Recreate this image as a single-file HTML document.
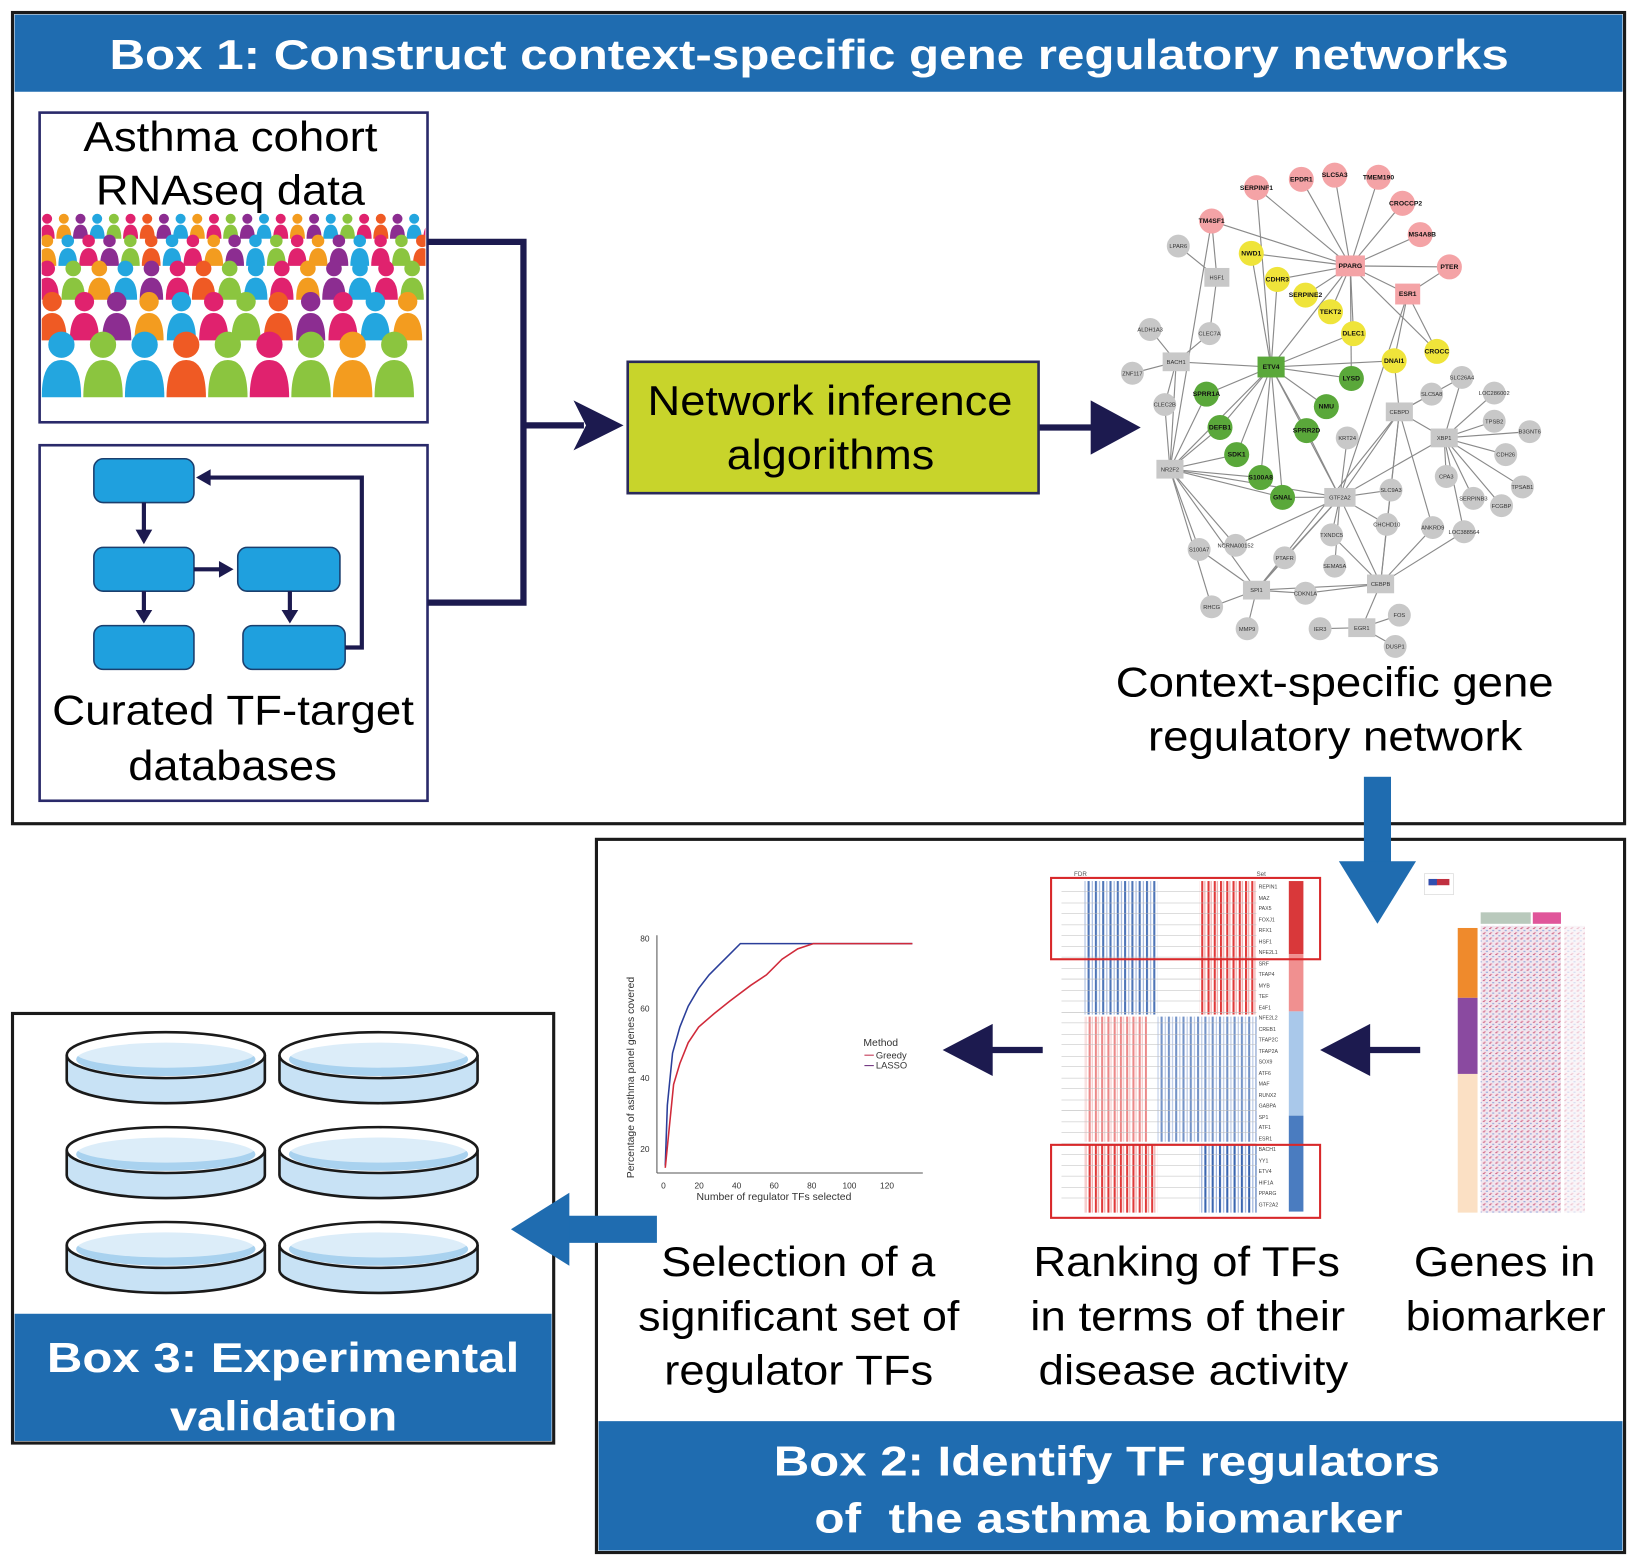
<!DOCTYPE html>
<html><head><meta charset="utf-8"><style>html,body{margin:0;padding:0;background:#fff}svg{display:block}</style></head><body>
<svg width="1635" height="1564" viewBox="0 0 1568 1500" preserveAspectRatio="none" xmlns="http://www.w3.org/2000/svg" font-family="Liberation Sans, sans-serif">
<defs>
<pattern id="bs" width="7" height="10" patternUnits="userSpaceOnUse"><rect x="0" y="0" width="2" height="10" fill="#3a66b0"/><rect x="4" y="0" width="1" height="10" fill="#8fa8d8"/></pattern>
<pattern id="rs" width="6" height="10" patternUnits="userSpaceOnUse"><rect x="0" y="0" width="2" height="10" fill="#e03a3a"/><rect x="3" y="0" width="1" height="10" fill="#f0a0a0"/></pattern>
<pattern id="hm" width="6" height="5" patternUnits="userSpaceOnUse"><rect width="6" height="5" fill="#f2e6ee"/><rect x="0" y="0" width="2" height="1" fill="#d06a8a"/><rect x="3" y="2" width="2" height="1" fill="#8aa0d8"/><rect x="1" y="4" width="2" height="1" fill="#e090a8"/></pattern>
<g id="person"><circle cx="9" cy="6" r="6"/><path d="M0 30 Q0 13 9 13 Q18 13 18 30 Z"/></g>
<g id="dish"><path d="M0 0 L0 24 A95 22 0 0 0 190 24 L190 0" fill="#c8e2f5" stroke="#1a1a1a" stroke-width="2.5"/><ellipse cx="95" cy="0" rx="95" ry="22" fill="#fff" stroke="#1a1a1a" stroke-width="2.5"/><ellipse cx="95" cy="4" rx="86" ry="16" fill="#a9d2ef"/><ellipse cx="95" cy="-2" rx="86" ry="14" fill="#fff" opacity="0.6"/></g>
<clipPath id="crowd"><rect x="40" y="200" width="368" height="195"/></clipPath>
</defs>

<!-- Box 1 -->
<rect x="12" y="12" width="1546" height="778" fill="#fff" stroke="#1a1a1a" stroke-width="3"/>
<rect x="14" y="14" width="1542" height="74" fill="#1f6cb0"/>
<text x="105" y="66" font-size="40" font-weight="bold" fill="#fff" textLength="1342" lengthAdjust="spacingAndGlyphs">Box 1: Construct context-specific gene regulatory networks</text>

<rect x="38" y="108" width="372" height="297" fill="#fff" stroke="#2a2a6a" stroke-width="2.5"/>
<text x="80" y="145" font-size="40" textLength="282" lengthAdjust="spacingAndGlyphs">Asthma cohort</text>
<text x="92" y="196" font-size="40" textLength="258" lengthAdjust="spacingAndGlyphs">RNAseq data</text>
<g clip-path="url(#crowd)">
<g transform="translate(38,205) scale(0.8)" >
<use href="#person" x="0" y="0" fill="#e0226e"/><use href="#person" x="20" y="0" fill="#f39c1f"/><use href="#person" x="40" y="0" fill="#8c2d91"/><use href="#person" x="60" y="0" fill="#23a6df"/><use href="#person" x="80" y="0" fill="#8bc53f"/><use href="#person" x="100" y="0" fill="#e0226e"/><use href="#person" x="120" y="0" fill="#ef5a24"/><use href="#person" x="140" y="0" fill="#8c2d91"/><use href="#person" x="160" y="0" fill="#23a6df"/><use href="#person" x="180" y="0" fill="#f39c1f"/><use href="#person" x="200" y="0" fill="#e0226e"/><use href="#person" x="220" y="0" fill="#8bc53f"/><use href="#person" x="240" y="0" fill="#8c2d91"/><use href="#person" x="260" y="0" fill="#23a6df"/><use href="#person" x="280" y="0" fill="#e0226e"/><use href="#person" x="300" y="0" fill="#f39c1f"/><use href="#person" x="320" y="0" fill="#8c2d91"/><use href="#person" x="340" y="0" fill="#23a6df"/><use href="#person" x="360" y="0" fill="#8bc53f"/><use href="#person" x="380" y="0" fill="#e0226e"/><use href="#person" x="400" y="0" fill="#ef5a24"/><use href="#person" x="420" y="0" fill="#8c2d91"/><use href="#person" x="440" y="0" fill="#23a6df"/><use href="#person" x="460" y="0" fill="#e0226e"/>
</g>
<g transform="translate(36,225) scale(1)">
<use href="#person" x="0" y="0" fill="#f39c1f"/><use href="#person" x="20" y="0" fill="#23a6df"/><use href="#person" x="40" y="0" fill="#e0226e"/><use href="#person" x="60" y="0" fill="#8c2d91"/><use href="#person" x="80" y="0" fill="#8bc53f"/><use href="#person" x="100" y="0" fill="#ef5a24"/><use href="#person" x="120" y="0" fill="#23a6df"/><use href="#person" x="140" y="0" fill="#e0226e"/><use href="#person" x="160" y="0" fill="#f39c1f"/><use href="#person" x="180" y="0" fill="#8c2d91"/><use href="#person" x="200" y="0" fill="#23a6df"/><use href="#person" x="220" y="0" fill="#8bc53f"/><use href="#person" x="240" y="0" fill="#e0226e"/><use href="#person" x="260" y="0" fill="#f39c1f"/><use href="#person" x="280" y="0" fill="#8c2d91"/><use href="#person" x="300" y="0" fill="#23a6df"/><use href="#person" x="320" y="0" fill="#e0226e"/><use href="#person" x="340" y="0" fill="#8bc53f"/><use href="#person" x="360" y="0" fill="#ef5a24"/>
</g>
<g transform="translate(34,250) scale(1.25)">
<use href="#person" x="0" y="0" fill="#e0226e"/><use href="#person" x="20" y="0" fill="#8bc53f"/><use href="#person" x="40" y="0" fill="#f39c1f"/><use href="#person" x="60" y="0" fill="#23a6df"/><use href="#person" x="80" y="0" fill="#8c2d91"/><use href="#person" x="100" y="0" fill="#e0226e"/><use href="#person" x="120" y="0" fill="#ef5a24"/><use href="#person" x="140" y="0" fill="#8bc53f"/><use href="#person" x="160" y="0" fill="#23a6df"/><use href="#person" x="180" y="0" fill="#e0226e"/><use href="#person" x="200" y="0" fill="#f39c1f"/><use href="#person" x="220" y="0" fill="#8c2d91"/><use href="#person" x="240" y="0" fill="#23a6df"/><use href="#person" x="260" y="0" fill="#e0226e"/><use href="#person" x="280" y="0" fill="#8bc53f"/>
</g>
<g transform="translate(36,280) scale(1.55)">
<use href="#person" x="0" y="0" fill="#ef5a24"/><use href="#person" x="20" y="0" fill="#e0226e"/><use href="#person" x="40" y="0" fill="#8c2d91"/><use href="#person" x="60" y="0" fill="#f39c1f"/><use href="#person" x="80" y="0" fill="#23a6df"/><use href="#person" x="100" y="0" fill="#e0226e"/><use href="#person" x="120" y="0" fill="#8bc53f"/><use href="#person" x="140" y="0" fill="#ef5a24"/><use href="#person" x="160" y="0" fill="#8c2d91"/><use href="#person" x="180" y="0" fill="#e0226e"/><use href="#person" x="200" y="0" fill="#23a6df"/><use href="#person" x="220" y="0" fill="#f39c1f"/>
</g>
<g transform="translate(40,318) scale(2.1)">
<use href="#person" x="0" y="0" fill="#23a6df"/><use href="#person" x="19" y="0" fill="#8bc53f"/><use href="#person" x="38" y="0" fill="#23a6df"/><use href="#person" x="57" y="0" fill="#ef5a24"/><use href="#person" x="76" y="0" fill="#8bc53f"/><use href="#person" x="95" y="0" fill="#e0226e"/><use href="#person" x="114" y="0" fill="#8bc53f"/><use href="#person" x="133" y="0" fill="#f39c1f"/><use href="#person" x="152" y="0" fill="#8bc53f"/>
</g>
</g>

<rect x="38" y="427" width="372" height="341" fill="#fff" stroke="#2a2a6a" stroke-width="2.5"/>
<g fill="#1fa0de" stroke="#1a3f6e" stroke-width="1.5">
<rect x="90" y="440" width="96" height="42" rx="9"/><rect x="90" y="525" width="96" height="42" rx="9"/><rect x="228" y="525" width="98" height="42" rx="9"/><rect x="90" y="600" width="96" height="42" rx="9"/><rect x="233" y="600" width="98" height="42" rx="9"/>
</g>
<g stroke="#1c1a4f" stroke-width="4" fill="none">
<line x1="138" y1="482" x2="138" y2="510"/><line x1="186" y1="546" x2="212" y2="546"/><line x1="138" y1="567" x2="138" y2="587"/><line x1="278" y1="567" x2="278" y2="587"/>
<polyline points="331,621 347,621 347,458 200,458"/>
</g>
<g fill="#1c1a4f"><polygon points="130,508 146,508 138,522"/><polygon points="210,538 210,554 224,546"/><polygon points="130,585 146,585 138,598"/><polygon points="270,585 286,585 278,598"/><polygon points="202,450 202,466 188,458"/></g>
<text x="50" y="695" font-size="40" textLength="347" lengthAdjust="spacingAndGlyphs">Curated TF-target</text>
<text x="123" y="748" font-size="40" textLength="200" lengthAdjust="spacingAndGlyphs">databases</text>

<!-- connectors -->
<g stroke="#1c1a4f" stroke-width="6" fill="none"><polyline points="410,232 502,232 502,578 410,578"/><line x1="502" y1="408" x2="560" y2="408"/><line x1="996" y1="410" x2="1050" y2="410"/></g>
<polygon points="550,384 598,408 550,432 562,408" fill="#1c1a4f"/>
<polygon points="1046,384 1094,410 1046,436" fill="#1c1a4f"/>
<rect x="602" y="347" width="394" height="126" fill="#c8d42b" stroke="#2a2a5a" stroke-width="2.5"/>
<text x="621" y="398" font-size="40" textLength="350" lengthAdjust="spacingAndGlyphs">Network inference</text>
<text x="697" y="450" font-size="40" textLength="199" lengthAdjust="spacingAndGlyphs">algorithms</text>

<!-- network -->
<g stroke="#8a8a8a" stroke-width="1.1">
<line x1="1295" y1="255" x2="1205" y2="180"/><line x1="1295" y1="255" x2="1248" y2="172"/><line x1="1295" y1="255" x2="1280" y2="168"/><line x1="1295" y1="255" x2="1322" y2="170"/><line x1="1295" y1="255" x2="1345" y2="195"/><line x1="1295" y1="255" x2="1362" y2="225"/><line x1="1295" y1="255" x2="1390" y2="256"/><line x1="1295" y1="255" x2="1350" y2="282"/><line x1="1295" y1="255" x2="1162" y2="212"/><line x1="1295" y1="255" x2="1200" y2="243"/><line x1="1295" y1="255" x2="1225" y2="268"/><line x1="1295" y1="255" x2="1252" y2="283"/><line x1="1295" y1="255" x2="1276" y2="299"/><line x1="1295" y1="255" x2="1298" y2="320"/><line x1="1295" y1="255" x2="1219" y2="352"/><line x1="1295" y1="255" x2="1378" y2="337"/><line x1="1295" y1="255" x2="1296" y2="363"/>
<line x1="1350" y1="282" x2="1337" y2="346"/><line x1="1350" y1="282" x2="1378" y2="337"/><line x1="1350" y1="282" x2="1390" y2="256"/><line x1="1350" y1="282" x2="1285" y2="477"/><line x1="1205" y1="180" x2="1219" y2="352"/>
<line x1="1219" y1="352" x2="1157" y2="378"/><line x1="1219" y1="352" x2="1170" y2="410"/><line x1="1219" y1="352" x2="1186" y2="436"/><line x1="1219" y1="352" x2="1209" y2="458"/><line x1="1219" y1="352" x2="1230" y2="477"/><line x1="1219" y1="352" x2="1253" y2="413"/><line x1="1219" y1="352" x2="1272" y2="390"/><line x1="1219" y1="352" x2="1296" y2="363"/><line x1="1219" y1="352" x2="1200" y2="243"/><line x1="1219" y1="352" x2="1225" y2="268"/><line x1="1219" y1="352" x2="1337" y2="346"/><line x1="1219" y1="352" x2="1128" y2="347"/><line x1="1219" y1="352" x2="1122" y2="450"/><line x1="1219" y1="352" x2="1285" y2="477"/><line x1="1219" y1="352" x2="1298" y2="320"/>
<line x1="1162" y1="212" x2="1167" y2="266"/><line x1="1162" y1="212" x2="1122" y2="450"/><line x1="1167" y1="266" x2="1130" y2="236"/><line x1="1167" y1="266" x2="1160" y2="320"/>
<line x1="1128" y1="347" x2="1103" y2="316"/><line x1="1128" y1="347" x2="1086" y2="358"/><line x1="1128" y1="347" x2="1117" y2="388"/><line x1="1128" y1="347" x2="1160" y2="320"/><line x1="1128" y1="347" x2="1122" y2="450"/>
<line x1="1122" y1="450" x2="1157" y2="378"/><line x1="1122" y1="450" x2="1170" y2="410"/><line x1="1122" y1="450" x2="1186" y2="436"/><line x1="1122" y1="450" x2="1209" y2="458"/><line x1="1122" y1="450" x2="1230" y2="477"/><line x1="1122" y1="450" x2="1117" y2="388"/><line x1="1122" y1="450" x2="1150" y2="527"/><line x1="1122" y1="450" x2="1185" y2="523"/><line x1="1122" y1="450" x2="1205" y2="566"/><line x1="1122" y1="450" x2="1285" y2="477"/><line x1="1122" y1="450" x2="1162" y2="582"/>
<line x1="1285" y1="477" x2="1342" y2="395"/><line x1="1285" y1="477" x2="1385" y2="420"/><line x1="1285" y1="477" x2="1334" y2="470"/><line x1="1285" y1="477" x2="1330" y2="503"/><line x1="1285" y1="477" x2="1277" y2="513"/><line x1="1285" y1="477" x2="1280" y2="543"/><line x1="1285" y1="477" x2="1232" y2="535"/><line x1="1285" y1="477" x2="1324" y2="560"/><line x1="1285" y1="477" x2="1292" y2="420"/><line x1="1285" y1="477" x2="1230" y2="477"/><line x1="1285" y1="477" x2="1185" y2="523"/><line x1="1285" y1="477" x2="1253" y2="413"/><line x1="1285" y1="477" x2="1205" y2="566"/>
<line x1="1342" y1="395" x2="1402" y2="362"/><line x1="1342" y1="395" x2="1373" y2="378"/><line x1="1342" y1="395" x2="1385" y2="420"/><line x1="1342" y1="395" x2="1374" y2="506"/><line x1="1342" y1="395" x2="1330" y2="503"/><line x1="1342" y1="395" x2="1324" y2="560"/><line x1="1342" y1="395" x2="1205" y2="566"/><line x1="1342" y1="395" x2="1337" y2="346"/>
<line x1="1385" y1="420" x2="1433" y2="404"/><line x1="1385" y1="420" x2="1467" y2="414"/><line x1="1385" y1="420" x2="1444" y2="436"/><line x1="1385" y1="420" x2="1387" y2="457"/><line x1="1385" y1="420" x2="1460" y2="467"/><line x1="1385" y1="420" x2="1413" y2="478"/><line x1="1385" y1="420" x2="1440" y2="485"/><line x1="1385" y1="420" x2="1433" y2="377"/><line x1="1385" y1="420" x2="1402" y2="362"/><line x1="1385" y1="420" x2="1404" y2="510"/>
<line x1="1324" y1="560" x2="1205" y2="566"/><line x1="1324" y1="560" x2="1252" y2="569"/><line x1="1324" y1="560" x2="1306" y2="602"/><line x1="1324" y1="560" x2="1330" y2="503"/><line x1="1324" y1="560" x2="1374" y2="506"/><line x1="1324" y1="560" x2="1404" y2="510"/><line x1="1324" y1="560" x2="1277" y2="513"/>
<line x1="1205" y1="566" x2="1162" y2="582"/><line x1="1205" y1="566" x2="1196" y2="603"/><line x1="1205" y1="566" x2="1252" y2="569"/><line x1="1205" y1="566" x2="1150" y2="527"/><line x1="1205" y1="566" x2="1232" y2="535"/>
<line x1="1306" y1="602" x2="1266" y2="603"/><line x1="1306" y1="602" x2="1342" y2="590"/><line x1="1306" y1="602" x2="1338" y2="620"/>
</g>
<g fill="#f4a3a6"><circle cx="1205" cy="180" r="12"/><circle cx="1248" cy="172" r="12"/><circle cx="1280" cy="168" r="12"/><circle cx="1322" cy="170" r="12"/><circle cx="1345" cy="195" r="12"/><circle cx="1362" cy="225" r="12"/><circle cx="1390" cy="256" r="12"/><circle cx="1162" cy="212" r="12"/><rect x="1338" y="272" width="24" height="20"/><rect x="1281" y="245" width="28" height="20"/></g>
<g fill="#efe43a"><circle cx="1200" cy="243" r="12"/><circle cx="1225" cy="268" r="12"/><circle cx="1252" cy="283" r="12"/><circle cx="1276" cy="299" r="12"/><circle cx="1298" cy="320" r="12"/><circle cx="1337" cy="346" r="12"/><circle cx="1378" cy="337" r="12"/></g>
<g fill="#5aa83a"><rect x="1206" y="342" width="26" height="20"/><circle cx="1157" cy="378" r="12"/><circle cx="1170" cy="410" r="12"/><circle cx="1186" cy="436" r="12"/><circle cx="1209" cy="458" r="12"/><circle cx="1230" cy="477" r="12"/><circle cx="1253" cy="413" r="12"/><circle cx="1272" cy="390" r="12"/><circle cx="1296" cy="363" r="12"/></g>
<g fill="#c8c8c8"><circle cx="1130" cy="236" r="11"/><rect x="1155" y="257" width="24" height="18"/><circle cx="1103" cy="316" r="11"/><circle cx="1160" cy="320" r="11"/><rect x="1115" y="338" width="26" height="18"/><circle cx="1086" cy="358" r="11"/><circle cx="1117" cy="388" r="11"/><rect x="1109" y="441" width="26" height="18"/><circle cx="1292" cy="420" r="11"/><rect x="1329" y="386" width="26" height="18"/><rect x="1372" y="411" width="26" height="18"/><rect x="1270" y="468" width="30" height="18"/><circle cx="1402" cy="362" r="11"/><circle cx="1433" cy="377" r="11"/><circle cx="1373" cy="378" r="11"/><circle cx="1433" cy="404" r="11"/><circle cx="1467" cy="414" r="11"/><circle cx="1444" cy="436" r="11"/><circle cx="1387" cy="457" r="11"/><circle cx="1460" cy="467" r="11"/><circle cx="1413" cy="478" r="11"/><circle cx="1440" cy="485" r="11"/><circle cx="1334" cy="470" r="11"/><circle cx="1330" cy="503" r="11"/><circle cx="1374" cy="506" r="11"/><circle cx="1404" cy="510" r="11"/><circle cx="1277" cy="513" r="11"/><circle cx="1150" cy="527" r="11"/><circle cx="1185" cy="523" r="11"/><circle cx="1232" cy="535" r="11"/><circle cx="1280" cy="543" r="11"/><rect x="1311" y="551" width="26" height="18"/><rect x="1192" y="557" width="26" height="18"/><circle cx="1252" cy="569" r="11"/><circle cx="1162" cy="582" r="11"/><circle cx="1196" cy="603" r="11"/><circle cx="1266" cy="603" r="11"/><rect x="1293" y="593" width="26" height="18"/><circle cx="1342" cy="590" r="11"/><circle cx="1338" cy="620" r="11"/></g>
<g font-size="6.5" font-weight="bold" text-anchor="middle" fill="#111">
<text x="1205" y="182">SERPINF1</text><text x="1248" y="174">EPDR1</text><text x="1280" y="170">SLC5A3</text><text x="1322" y="172">TMEM190</text><text x="1348" y="197">CROCCP2</text><text x="1364" y="227">MS4A8B</text><text x="1390" y="258">PTER</text><text x="1350" y="284">ESR1</text><text x="1295" y="257">PPARG</text><text x="1162" y="214">TM4SF1</text><text x="1200" y="245">NWD1</text><text x="1225" y="270">CDHR3</text><text x="1252" y="285">SERPINE2</text><text x="1276" y="301">TEKT2</text><text x="1298" y="322">DLEC1</text><text x="1337" y="348">DNAI1</text><text x="1378" y="339">CROCC</text><text x="1219" y="354">ETV4</text><text x="1157" y="380">SPRR1A</text><text x="1170" y="412">DEFB1</text><text x="1186" y="438">SDK1</text><text x="1209" y="460">S100A8</text><text x="1230" y="479">GNAL</text><text x="1253" y="415">SPRR2D</text><text x="1272" y="392">NMU</text><text x="1296" y="365">LYSD</text>
</g>
<g font-size="5.5" text-anchor="middle" fill="#333">
<text x="1130" y="238">LPAR6</text><text x="1167" y="268">HSF1</text><text x="1103" y="318">ALDH1A3</text><text x="1160" y="322">CLEC7A</text><text x="1128" y="349">BACH1</text><text x="1086" y="360">ZNF117</text><text x="1117" y="390">CLEC2B</text><text x="1122" y="452">NR2F2</text><text x="1292" y="422">KRT24</text><text x="1342" y="397">CEBPD</text><text x="1385" y="422">XBP1</text><text x="1285" y="479">GTF2A2</text><text x="1402" y="364">SLC26A4</text><text x="1433" y="379">LOC286002</text><text x="1373" y="380">SLC5A8</text><text x="1433" y="406">TPSB2</text><text x="1467" y="416">B3GNT6</text><text x="1444" y="438">CDH26</text><text x="1387" y="459">CPA3</text><text x="1460" y="469">TPSAB1</text><text x="1413" y="480">SERPINB3</text><text x="1440" y="487">FCGBP</text><text x="1334" y="472">SLC9A3</text><text x="1330" y="505">CHCHD10</text><text x="1374" y="508">ANKRD9</text><text x="1404" y="512">LOC388564</text><text x="1277" y="515">TXNDC5</text><text x="1150" y="529">S100A7</text><text x="1185" y="525">NCRNA00152</text><text x="1232" y="537">PTAFR</text><text x="1280" y="545">SEMA5A</text><text x="1324" y="562">CEBPB</text><text x="1205" y="568">SPI1</text><text x="1252" y="571">CDKN1A</text><text x="1162" y="584">RHCG</text><text x="1196" y="605">MMP9</text><text x="1266" y="605">IER3</text><text x="1306" y="604">EGR1</text><text x="1342" y="592">FOS</text><text x="1338" y="622">DUSP1</text>
</g>
<text x="1070" y="668" font-size="40" textLength="420" lengthAdjust="spacingAndGlyphs">Context-specific gene</text>
<text x="1101" y="720" font-size="40" textLength="359" lengthAdjust="spacingAndGlyphs">regulatory network</text>

<!-- Box 2 -->
<rect x="572" y="805" width="986" height="684" fill="#fff" stroke="#1a1a1a" stroke-width="3"/>
<rect x="574" y="1363" width="982" height="124" fill="#1f6cb0"/>
<text x="742" y="1415" font-size="40" font-weight="bold" fill="#fff" textLength="639" lengthAdjust="spacingAndGlyphs">Box 2: Identify TF regulators</text>
<text x="781" y="1470" font-size="40" font-weight="bold" fill="#fff" textLength="564" lengthAdjust="spacingAndGlyphs" xml:space="preserve">of  the asthma biomarker</text>

<!-- blue down arrow -->
<rect x="1308" y="745" width="26" height="85" fill="#1f6cb0"/>
<polygon points="1284,826 1358,826 1321,886" fill="#1f6cb0"/>

<!-- plot -->
<g stroke="#555" stroke-width="1" fill="none"><line x1="630" y1="897" x2="630" y2="1125"/><line x1="630" y1="1125" x2="885" y2="1125"/></g>
<g font-size="8" fill="#333"><text x="614" y="903">80</text><text x="614" y="970">60</text><text x="614" y="1037">40</text><text x="614" y="1105">20</text><text x="634" y="1140">0</text><text x="666" y="1140">20</text><text x="702" y="1140">40</text><text x="738" y="1140">60</text><text x="774" y="1140">80</text><text x="808" y="1140">100</text><text x="844" y="1140">120</text>
<text x="668" y="1151" font-size="10">Number of regulator TFs selected</text>
<text transform="translate(608,1130) rotate(-90)" font-size="10">Percentage of asthma panel genes covered</text>
<text x="828" y="1003" font-size="10">Method</text><text x="840" y="1015" font-size="9">Greedy</text><text x="840" y="1025" font-size="9">LASSO</text></g>
<line x1="829" y1="1012" x2="838" y2="1012" stroke="#c03050"/><line x1="829" y1="1022" x2="838" y2="1022" stroke="#6a2a7a"/>
<polyline fill="none" stroke="#2b3f9a" stroke-width="1.5" points="638,1118 640,1060 645,1010 652,985 660,965 670,948 680,935 690,925 700,915 710,905 780,905 875,905"/>
<polyline fill="none" stroke="#d02a3a" stroke-width="1.5" points="638,1120 642,1080 646,1040 652,1020 660,1000 670,985 685,972 700,960 720,945 735,935 750,920 765,910 780,905 875,905"/>

<!-- navy arrows in box 2 -->
<line x1="1000" y1="1007" x2="945" y2="1007" stroke="#1c1a4f" stroke-width="6"/><polygon points="952,982 904,1007 952,1032" fill="#1c1a4f"/>
<line x1="1362" y1="1007" x2="1305" y2="1007" stroke="#1c1a4f" stroke-width="6"/><polygon points="1314,982 1266,1007 1314,1032" fill="#1c1a4f"/>

<!-- ranking heatmap -->
<g font-size="6" fill="#555"><text x="1030" y="840">FDR</text><text x="1205" y="840">Set</text></g>
<rect x="1040" y="845" width="70" height="128" fill="url(#bs)" opacity="0.9"/>
<rect x="1150" y="845" width="55" height="128" fill="url(#rs)"/>
<rect x="1040" y="975" width="60" height="120" fill="url(#rs)" opacity="0.6"/>
<rect x="1110" y="975" width="95" height="120" fill="url(#bs)" opacity="0.7"/>
<rect x="1040" y="1098" width="70" height="65" fill="url(#rs)"/>
<rect x="1150" y="1098" width="55" height="65" fill="url(#bs)"/>
<g stroke="#bbb" stroke-width="0.5">
<line x1="1018" y1="855" x2="1205" y2="855"/><line x1="1018" y1="866" x2="1205" y2="866"/><line x1="1018" y1="876" x2="1205" y2="876"/><line x1="1018" y1="887" x2="1205" y2="887"/><line x1="1018" y1="897" x2="1205" y2="897"/><line x1="1018" y1="908" x2="1205" y2="908"/><line x1="1018" y1="918" x2="1205" y2="918"/><line x1="1018" y1="929" x2="1205" y2="929"/><line x1="1018" y1="939" x2="1205" y2="939"/><line x1="1018" y1="950" x2="1205" y2="950"/><line x1="1018" y1="960" x2="1205" y2="960"/><line x1="1018" y1="971" x2="1205" y2="971"/><line x1="1018" y1="981" x2="1205" y2="981"/><line x1="1018" y1="992" x2="1205" y2="992"/><line x1="1018" y1="1002" x2="1205" y2="1002"/><line x1="1018" y1="1013" x2="1205" y2="1013"/><line x1="1018" y1="1023" x2="1205" y2="1023"/><line x1="1018" y1="1034" x2="1205" y2="1034"/><line x1="1018" y1="1044" x2="1205" y2="1044"/><line x1="1018" y1="1055" x2="1205" y2="1055"/><line x1="1018" y1="1065" x2="1205" y2="1065"/><line x1="1018" y1="1076" x2="1205" y2="1076"/><line x1="1018" y1="1086" x2="1205" y2="1086"/><line x1="1018" y1="1097" x2="1205" y2="1097"/><line x1="1018" y1="1107" x2="1205" y2="1107"/><line x1="1018" y1="1118" x2="1205" y2="1118"/><line x1="1018" y1="1128" x2="1205" y2="1128"/><line x1="1018" y1="1139" x2="1205" y2="1139"/><line x1="1018" y1="1149" x2="1205" y2="1149"/>
</g>
<rect x="1236" y="845" width="14" height="70" fill="#d9383a"/><rect x="1236" y="915" width="14" height="55" fill="#f09090"/><rect x="1236" y="970" width="14" height="100" fill="#a9c8ea"/><rect x="1236" y="1070" width="14" height="92" fill="#4a7cc0"/>
<g font-size="5" fill="#444"><text x="1207" y="852">REPIN1</text><text x="1207" y="863">MAZ</text><text x="1207" y="873">PAX5</text><text x="1207" y="884">FOXJ1</text><text x="1207" y="894">RFX1</text><text x="1207" y="905">HSF1</text><text x="1207" y="915">NFE2L1</text><text x="1207" y="926">SRF</text><text x="1207" y="936">TFAP4</text><text x="1207" y="947">MYB</text><text x="1207" y="957">TEF</text><text x="1207" y="968">E4F1</text><text x="1207" y="978">NFE2L2</text><text x="1207" y="989">CREB1</text><text x="1207" y="999">TFAP2C</text><text x="1207" y="1010">TFAP2A</text><text x="1207" y="1020">SOX9</text><text x="1207" y="1031">ATF6</text><text x="1207" y="1041">MAF</text><text x="1207" y="1052">RUNX2</text><text x="1207" y="1062">GABPA</text><text x="1207" y="1073">SP1</text><text x="1207" y="1083">ATF1</text><text x="1207" y="1094">ESR1</text><text x="1207" y="1104">BACH1</text><text x="1207" y="1115">YY1</text><text x="1207" y="1125">ETV4</text><text x="1207" y="1136">HIF1A</text><text x="1207" y="1146">PPARG</text><text x="1207" y="1157">GTF2A2</text></g>
<rect x="1008" y="842" width="258" height="78" fill="none" stroke="#d8282a" stroke-width="2"/>
<rect x="1008" y="1098" width="258" height="70" fill="none" stroke="#d8282a" stroke-width="2"/>

<!-- genes heatmap -->
<rect x="1366" y="838" width="28" height="20" fill="#fff" stroke="#ccc" stroke-width="0.5"/><rect x="1370" y="843" width="20" height="6" fill="#c03040"/><rect x="1370" y="843" width="8" height="6" fill="#3050b0"/>
<rect x="1420" y="875" width="48" height="11" fill="#b9c9bc"/><rect x="1470" y="875" width="27" height="11" fill="#e0559a"/>
<rect x="1398" y="890" width="19" height="67" fill="#ef8a2c"/><rect x="1398" y="957" width="19" height="73" fill="#8a4aa0"/><rect x="1398" y="1030" width="19" height="133" fill="#fbe0c4"/>
<rect x="1420" y="888" width="77" height="275" fill="url(#hm)"/>
<rect x="1500" y="888" width="20" height="275" fill="url(#hm)" opacity="0.4"/>

<text x="634" y="1224" font-size="40" textLength="263" lengthAdjust="spacingAndGlyphs">Selection of a</text>
<text x="612" y="1276" font-size="40" textLength="308" lengthAdjust="spacingAndGlyphs">significant set of</text>
<text x="637" y="1328" font-size="40" textLength="258" lengthAdjust="spacingAndGlyphs">regulator TFs</text>
<text x="991" y="1224" font-size="40" textLength="294" lengthAdjust="spacingAndGlyphs">Ranking of TFs</text>
<text x="988" y="1276" font-size="40" textLength="302" lengthAdjust="spacingAndGlyphs">in terms of their</text>
<text x="996" y="1328" font-size="40" textLength="297" lengthAdjust="spacingAndGlyphs">disease activity</text>
<text x="1356" y="1224" font-size="40" textLength="174" lengthAdjust="spacingAndGlyphs">Genes in</text>
<text x="1348" y="1276" font-size="40" textLength="192" lengthAdjust="spacingAndGlyphs">biomarker</text>

<!-- Box 3 -->
<rect x="12" y="972" width="519" height="412" fill="#fff" stroke="#1a1a1a" stroke-width="3"/>
<rect x="14" y="1260" width="515" height="122" fill="#1f6cb0"/>
<text x="45" y="1316" font-size="40" font-weight="bold" fill="#fff" textLength="453" lengthAdjust="spacingAndGlyphs">Box 3: Experimental</text>
<text x="163" y="1372" font-size="40" font-weight="bold" fill="#fff" textLength="218" lengthAdjust="spacingAndGlyphs">validation</text>
<use href="#dish" x="64" y="1012"/><use href="#dish" x="268" y="1012"/>
<use href="#dish" x="64" y="1103"/><use href="#dish" x="268" y="1103"/>
<use href="#dish" x="64" y="1194"/><use href="#dish" x="268" y="1194"/>

<!-- blue left arrow -->
<rect x="540" y="1166" width="90" height="26" fill="#1f6cb0"/>
<polygon points="546,1144 490,1179 546,1214" fill="#1f6cb0"/>
</svg>
</body></html>
